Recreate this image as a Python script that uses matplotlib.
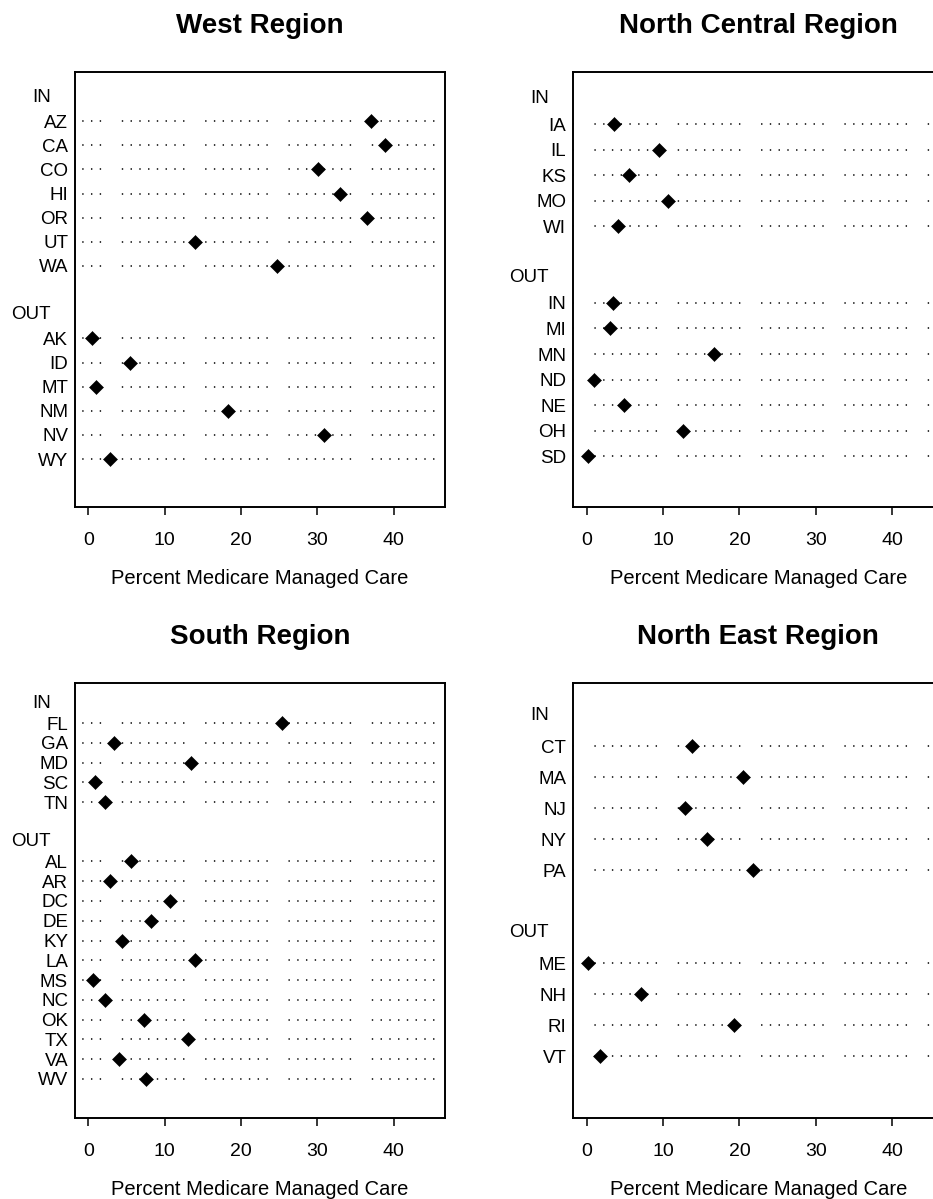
import matplotlib
matplotlib.use('Agg')
import matplotlib.pyplot as plt

plt.rcParams['font.family'] = ['Liberation Sans', 'DejaVu Sans']
plt.rcParams['lines.scale_dashes'] = False

# percent medicare managed care by state, split by IN / OUT group
west_in_states = ['AZ', 'CA', 'CO', 'HI', 'OR', 'UT', 'WA']
west_in_vals = [37.0, 38.8, 30.1, 32.9, 36.5, 14.0, 24.7]
west_out_states = ['AK', 'ID', 'MT', 'NM', 'NV', 'WY']
west_out_vals = [0.5, 5.5, 1.0, 18.3, 30.9, 2.8]

nc_in_states = ['IA', 'IL', 'KS', 'MO', 'WI']
nc_in_vals = [3.6, 9.5, 5.6, 10.6, 4.1]
nc_out_states = ['IN', 'MI', 'MN', 'ND', 'NE', 'OH', 'SD']
nc_out_vals = [3.4, 3.0, 16.7, 0.9, 4.9, 12.6, 0.2]

south_in_states = ['FL', 'GA', 'MD', 'SC', 'TN']
south_in_vals = [25.4, 3.3, 13.4, 0.9, 2.2]
south_out_states = ['AL', 'AR', 'DC', 'DE', 'KY', 'LA', 'MS', 'NC', 'OK', 'TX', 'VA', 'WV']
south_out_vals = [5.6, 2.8, 10.7, 8.2, 4.4, 14.0, 0.6, 2.2, 7.3, 13.1, 4.0, 7.5]

ne_in_states = ['CT', 'MA', 'NJ', 'NY', 'PA']
ne_in_vals = [13.8, 20.5, 12.9, 15.8, 21.8]
ne_out_states = ['ME', 'NH', 'RI', 'VT']
ne_out_vals = [0.2, 7.1, 19.3, 1.7]

x_ticks = [0, 10, 20, 30, 40]
xlabel = 'Percent Medicare Managed Care'

W, H = 933, 1199
fig = plt.figure(figsize=(W / 100, H / 100), dpi=100)

# dotted guide pattern: 8 dots then a gap (points)
dots = []
for i in range(7):
    dots += [1.0, 5.3]
dots += [1.0, 60 - 8 * 1.0 - 7 * 5.3]


def panel(rect, title, in_states, in_vals, out_states, out_vals, phase):
    ax = fig.add_axes(rect)
    n_in = len(in_states)
    in_rows = list(range(1, n_in + 1))
    out_hdr = n_in + 2
    out_rows = list(range(out_hdr + 1, out_hdr + 1 + len(out_states)))
    rows = in_rows + out_rows
    vals = list(in_vals) + list(out_vals)
    for r in rows:
        ax.axhline(r, color='black', lw=1.1, linestyle=(phase, dots), zorder=1)
    ax.plot(vals, rows, linestyle='none', marker='D', ms=7, mew=0.4,
            color='black', zorder=3)
    ax.set_xlim(-1.75, 46.7)
    ax.set_ylim(rows[-1] + 2, -1.05)
    ax.set_yticks(rows)
    ax.set_yticklabels(list(in_states) + list(out_states))
    ax.tick_params(axis='y', length=0, pad=5, labelsize=13.5)
    ax.set_xticks(x_ticks)
    ax.tick_params(axis='x', direction='out', length=5.5, width=1.1,
                   pad=12.5, labelsize=14)
    for hdr, r in (('IN', 0), ('OUT', out_hdr)):
        ax.annotate(hdr, xy=(0, r), xycoords=('axes fraction', 'data'),
                    xytext=(-17.5, 0), textcoords='offset points',
                    ha='right', va='center', fontsize=13.5)
    for s in ax.spines.values():
        s.set_linewidth(1.4)
    ax.set_xlabel(xlabel, fontsize=14.5, labelpad=14.5)
    ax.set_title(title, fontsize=20, fontweight='bold', pad=28)
    return ax


aw = 370 / W
ah = 435.6 / H
left1 = 75 / W
left2 = 573.3 / W
top_b = (H - 507.3) / H
bot_b = (H - 1118.3) / H

panel([left1, top_b, aw, ah], 'West Region', west_in_states, west_in_vals,
      west_out_states, west_out_vals, 26.3)
panel([left2, top_b, aw, ah], 'North Central Region', nc_in_states, nc_in_vals,
      nc_out_states, nc_out_vals, 44.6)
panel([left1, bot_b, aw, ah], 'South Region', south_in_states, south_in_vals,
      south_out_states, south_out_vals, 26.3)
panel([left2, bot_b, aw, ah], 'North East Region', ne_in_states, ne_in_vals,
      ne_out_states, ne_out_vals, 44.6)

fig.savefig('out.png', dpi=100)
